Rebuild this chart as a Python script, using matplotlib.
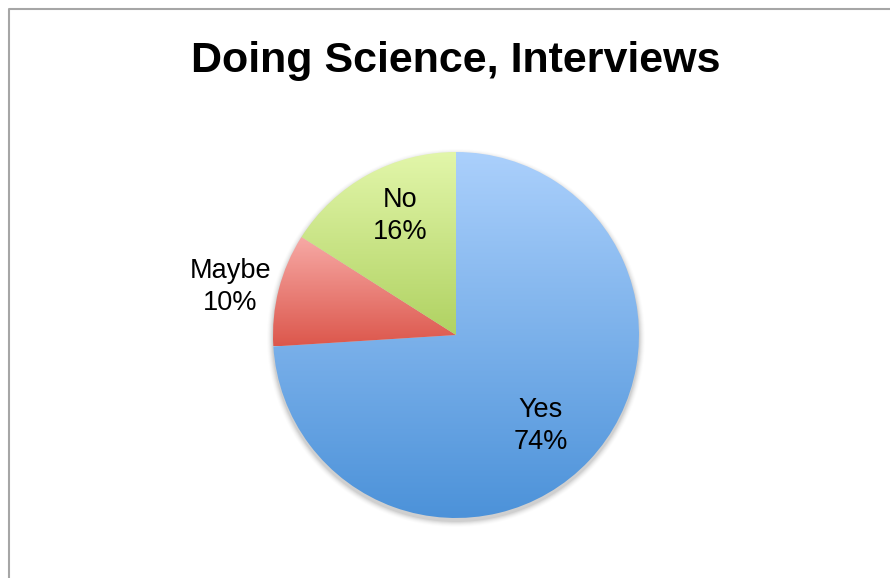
import numpy as np
import matplotlib
matplotlib.use("Agg")
import matplotlib.pyplot as plt
from matplotlib.patches import Circle
from matplotlib.colors import LinearSegmentedColormap

plt.rcParams['font.family'] = ['Liberation Sans', 'DejaVu Sans']

title = "Doing Science, Interviews"
labels = ["Yes", "Maybe", "No"]
shares = [74, 10, 16]
top_colors = ["#abd0fc", "#f7aaa6", "#e2f6aa"]
bottom_colors = ["#4c92d9", "#dc574c", "#b0d262"]
# label placement: fraction of radius, and angle nudge in degrees
label_dist = [0.68, 1.26, 0.72]
label_nudge = [-4.0, 2.5, -3.6]

W, H = 890, 578
fig = plt.figure(figsize=(W / 100, H / 100), dpi=100)
ax = fig.add_axes([0, 0, 1, 1])

cx, cy, r = 456, H - 335, 183

# soft shadow under the pie
for i, a in enumerate(np.linspace(0.05, 0.012, 6)):
    ax.add_patch(Circle((cx, cy - 3), r + 1 + i, color="black", alpha=a, lw=0, zorder=1))

wedges, _ = ax.pie(shares, center=(cx, cy), radius=r, startangle=90,
                   counterclock=False, frame=True,
                   wedgeprops=dict(lw=0, fc="none", zorder=3))
ax.set_xlim(0, W)
ax.set_ylim(0, H)
ax.set_aspect('equal')
ax.axis('off')

# frame lines (only left and top are inside the picture)
ax.plot([8.5, 8.5, W + 5], [-5, H - 8.5, H - 8.5], color="#a6a6a6", lw=1.5)

grad = np.linspace(0, 1, 256).reshape(-1, 1)
for w, c0, c1 in zip(wedges, top_colors, bottom_colors):
    bb = w.get_path().transformed(w.get_patch_transform()).get_extents()
    cmap = LinearSegmentedColormap.from_list("g", [c0, c1])
    im = ax.imshow(grad, cmap=cmap, aspect='auto', origin='upper',
                   extent=[bb.x0, bb.x1, bb.y0, bb.y1], zorder=2,
                   interpolation='bilinear')
    im.set_clip_path(w)

for w, lab, pct, d, nud in zip(wedges, labels, shares, label_dist, label_nudge):
    ang = np.deg2rad((w.theta1 + w.theta2) / 2 + nud)
    ax.text(cx + d * r * np.cos(ang), cy + d * r * np.sin(ang), f"{lab}\n{pct}%",
            ha='center', va='center', fontsize=19.5, linespacing=1.3, zorder=5)

ax.text(W / 2 + 11, H - 61, title, ha='center', va='center',
        fontsize=31, fontweight='bold')

fig.savefig("out.png", dpi=100)
